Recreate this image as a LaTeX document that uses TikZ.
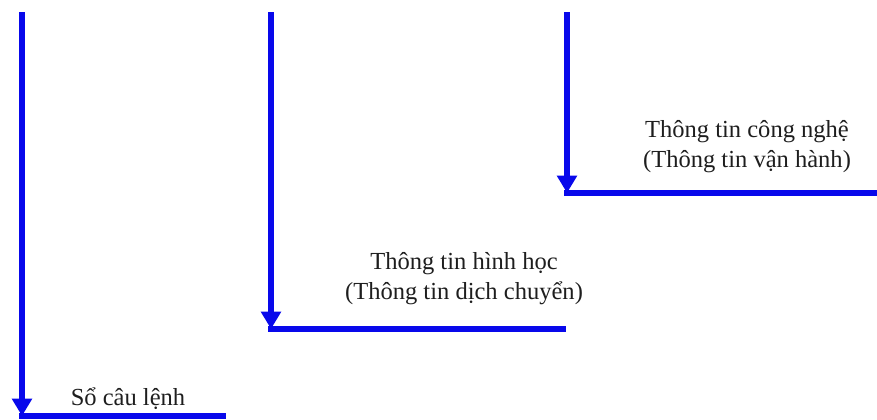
\documentclass[tikz,border=0pt]{standalone}
\usepackage{fontspec}
\setmainfont{Liberation Serif}
\usetikzlibrary{arrows.meta}
\definecolor{lineblue}{RGB}{8,8,235}
\definecolor{txt}{RGB}{30,30,30}
\begin{document}
\begin{tikzpicture}[x=0.75pt,y=-0.75pt,
  vline/.style={draw=lineblue,line width=3.8pt,-{Triangle[width=14.5pt,length=13pt]}},
  hline/.style={draw=lineblue,line width=3.8pt},
  lbl/.style={text=txt,font=\fontsize{18.4pt}{22.5pt}\selectfont,align=center,inner sep=0pt}]
\useasboundingbox (0,0) rectangle (877,419);
% coordinates
\coordinate (t1) at (22,12);  \coordinate (c1) at (22,416);  \coordinate (e1) at (226,416);
\coordinate (t2) at (271,12); \coordinate (c2) at (271,329); \coordinate (e2) at (566,329);
\coordinate (t3) at (567,12); \coordinate (c3) at (567,193); \coordinate (e3) at (877,193);
% lines
\draw[hline] ([xshift=-1.9pt]c1) -- (e1);
\draw[hline] ([xshift=-1.9pt]c2) -- (e2);
\draw[hline] ([xshift=-1.9pt]c3) -- (e3);
\draw[vline] (t1) -- (c1);
\draw[vline] (t2) -- (c2);
\draw[vline] (t3) -- (c3);
% labels
\node[lbl] (n1) at (128,399) {Sổ câu lệnh};
\node[lbl] (n2) at (464,279) {Thông tin hình học\\(Thông tin dịch chuyển)};
\node[lbl] (n3) at (747,147) {Thông tin công nghệ\\(Thông tin vận hành)};
\end{tikzpicture}
\end{document}
